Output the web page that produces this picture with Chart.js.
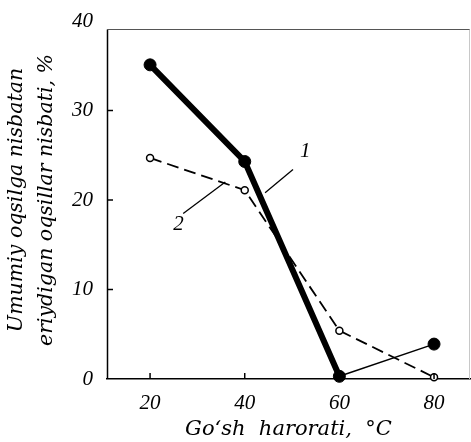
<!DOCTYPE html>
<html>
<head>
<meta charset="utf-8">
<script src="https://cdn.jsdelivr.net/npm/chart.js@4/dist/chart.umd.min.js"></script>
<style>
html,body{margin:0;padding:0;background:#fff;overflow:hidden;}
#wrap{width:471px;height:442px;position:relative;}
</style>
</head>
<body>
<div id="wrap"><canvas id="c" width="471" height="442"></canvas></div>
<script>
// Data
const temperatures = [20, 40, 60, 80];
const series1 = [35.1, 24.3, 0.3, 3.9];   // curve 1 (solid, filled points)
const series2 = [24.7, 21.1, 5.4, 0.2];   // curve 2 (dashed, open points)
const xTicks = [20, 40, 60, 80];
const yTicks = [0, 10, 20, 30, 40];
const yTitle = ["Umumiy oqsilga nisbatan", "eriydigan oqsillar nisbati, %"];
const xTitle = "Go\u2018sh  harorati,  \u00B0C";
const frameTop = 39.1;   // value at which the plot frame's top edge sits
// annotation labels (in data coordinates)
const labels = [
  {text: "1", at: [52.8, 25.4], from: [44.3, 20.8], to: [50.2, 23.4]},
  {text: "2", at: [26.0, 17.3], from: [27.0, 18.5], to: [35.9, 22.0]}
];

const serif = "'Liberation Serif', 'DejaVu Serif', serif";
const wideSerif = "'DejaVu Serif', 'Liberation Serif', serif";

const annotPlugin = {
  id: 'annot',
  afterDatasetsDraw(chart) {
    const {ctx, scales: {x, y}, chartArea: a} = chart;
    const ft = Math.round(y.getPixelForValue(frameTop)) + 0.5;
    ctx.save();
    // frame
    ctx.strokeStyle = '#000';
    ctx.lineWidth = 1.5;
    ctx.beginPath();
    ctx.moveTo(a.left + 0.5, ft); ctx.lineTo(a.left + 0.5, a.bottom);
    ctx.stroke();
    ctx.strokeStyle = '#555';
    ctx.lineWidth = 1.2;
    ctx.beginPath();
    ctx.moveTo(a.left, ft); ctx.lineTo(a.right, ft);
    ctx.stroke();
    ctx.strokeStyle = '#c8c8c8';
    ctx.lineWidth = 1;
    ctx.beginPath();
    ctx.moveTo(a.right - 0.5, ft); ctx.lineTo(a.right - 0.5, a.bottom);
    ctx.stroke();
    // inward ticks
    ctx.strokeStyle = '#000';
    ctx.lineWidth = 1.5;
    yTicks.forEach(v => {
      if (v <= 0 || v >= frameTop) return;
      const py = y.getPixelForValue(v);
      ctx.beginPath(); ctx.moveTo(a.left, py); ctx.lineTo(a.left + 6, py); ctx.stroke();
    });
    xTicks.forEach(v => {
      const px = x.getPixelForValue(v);
      ctx.beginPath(); ctx.moveTo(px, a.bottom); ctx.lineTo(px, a.bottom - 6); ctx.stroke();
    });
    // leaders and labels
    ctx.lineWidth = 1.3;
    ctx.fillStyle = '#000';
    ctx.font = "italic 21px " + serif;
    ctx.textAlign = 'center';
    ctx.textBaseline = 'middle';
    labels.forEach(l => {
      ctx.beginPath();
      ctx.moveTo(x.getPixelForValue(l.from[0]), y.getPixelForValue(l.from[1]));
      ctx.lineTo(x.getPixelForValue(l.to[0]), y.getPixelForValue(l.to[1]));
      ctx.stroke();
      ctx.fillText(l.text, x.getPixelForValue(l.at[0]), y.getPixelForValue(l.at[1]));
    });
    ctx.restore();
  }
};

new Chart(document.getElementById('c'), {
  type: 'line',
  data: {
    datasets: [
      {
        label: '1',
        data: temperatures.map((t, i) => ({x: t, y: series1[i]})),
        borderColor: '#000',
        backgroundColor: '#000',
        borderWidth: 6,
        segment: { borderWidth: ctx => ctx.p0DataIndex === 2 ? 1.5 : 6 },
        pointRadius: 6,
        pointBackgroundColor: '#000',
        pointBorderColor: '#000',
        pointBorderWidth: 1,
        tension: 0,
        clip: false
      },
      {
        label: '2',
        data: temperatures.map((t, i) => ({x: t, y: series2[i]})),
        borderColor: '#000',
        borderWidth: 1.8,
        borderDash: [12, 6],
        pointRadius: 3.5,
        pointBackgroundColor: '#fff',
        pointBorderColor: '#000',
        pointBorderWidth: 1.5,
        tension: 0,
        clip: false
      }
    ]
  },
  options: {
    responsive: false,
    animation: false,
    devicePixelRatio: 1,
    layout: { autoPadding: false, padding: { left: 0, right: 1, top: 21, bottom: 0 } },
    plugins: { legend: { display: false }, tooltip: { enabled: false } },
    scales: {
      x: {
        type: 'linear',
        min: 10.9, max: 87.6,
        afterBuildTicks: s => { s.ticks = xTicks.map(v => ({value: v})); },
        afterFit: s => { s.height = 63; s.paddingLeft = 0; s.paddingRight = 0; },
        grid: { display: false, drawTicks: false },
        border: { display: true, color: '#000', width: 1.5 },
        ticks: { color: '#000', font: { family: serif, size: 21, style: 'italic' }, padding: 12, maxRotation: 0 },
        title: { display: true, text: xTitle, color: '#000', font: { family: wideSerif, size: 21, style: 'italic' }, padding: { top: 5, bottom: 0 } }
      },
      y: {
        type: 'linear',
        min: 0, max: 40,
        afterBuildTicks: s => { s.ticks = yTicks.map(v => ({value: v})); },
        afterFit: s => { s.width = 107; s.paddingTop = 0; s.paddingBottom = 0; },
        grid: { display: false, drawTicks: false },
        border: { display: false },
        ticks: { color: '#000', font: { family: serif, size: 21, style: 'italic' }, padding: 14 },
        title: { display: true, text: yTitle, color: '#000', font: { family: wideSerif, size: 20.5, style: 'italic', lineHeight: 1.45 }, padding: { top: 2, bottom: 0 } }
      }
    }
  },
  plugins: [annotPlugin]
});
</script>
</body>
</html>
